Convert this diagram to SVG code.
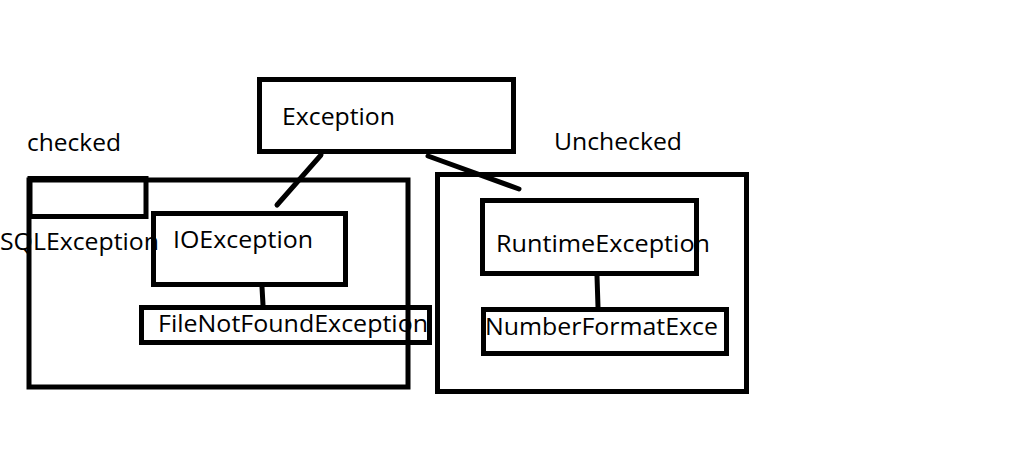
<svg xmlns="http://www.w3.org/2000/svg" width="1021" height="460" viewBox="0 0 1021 460">
<style>
.b{fill:none;stroke:#000;stroke-width:5}
.t{font-family:"Open Sans","Noto Sans",sans-serif;font-size:24px;fill:#000}
.c{stroke:#000;stroke-width:5;stroke-linecap:round;fill:none}
</style>
<rect width="1021" height="460" fill="#fff"/>
<g id="exception"><rect class="b" x="259.5" y="79.5" width="254" height="72"/><text class="t" x="282" y="125" textLength="113" lengthAdjust="spacingAndGlyphs">Exception</text></g>
<g id="checked-group"><rect class="b" x="29" y="180" width="379" height="207"/><text class="t" x="27" y="151" textLength="94" lengthAdjust="spacingAndGlyphs">checked</text></g>
<g id="sqlexception"><rect class="b" x="30" y="178.5" width="116" height="38"/><text class="t" x="0" y="250" textLength="159" lengthAdjust="spacingAndGlyphs">SQLException</text></g>
<g id="ioexception"><rect class="b" x="153.5" y="213.5" width="192" height="71"/><text class="t" x="173" y="248" textLength="140" lengthAdjust="spacingAndGlyphs">IOException</text></g>
<g id="filenotfound"><rect class="b" x="141.5" y="307.5" width="288" height="35"/><text class="t" x="158" y="332" textLength="270" lengthAdjust="spacingAndGlyphs">FileNotFoundException</text></g>
<g id="unchecked-group"><rect class="b" x="437.5" y="174.5" width="309" height="217"/><text class="t" x="554" y="150" textLength="128" lengthAdjust="spacingAndGlyphs">Unchecked</text></g>
<g id="runtime"><rect class="b" x="482.5" y="200.5" width="214" height="73"/><text class="t" x="496" y="252" textLength="214" lengthAdjust="spacingAndGlyphs">RuntimeException</text></g>
<g id="numberformat"><rect class="b" x="483.5" y="309.5" width="243" height="44"/><text class="t" x="485" y="335" textLength="233" lengthAdjust="spacingAndGlyphs">NumberFormatExce</text></g>
<g id="connectors">
<line class="c" x1="321" y1="155" x2="277" y2="205"/>
<line class="c" x1="262" y1="287" x2="263" y2="305"/>
<line class="c" x1="428" y1="156" x2="519" y2="189"/>
<line class="c" x1="597" y1="276" x2="598" y2="307"/>
</g>
</svg>
